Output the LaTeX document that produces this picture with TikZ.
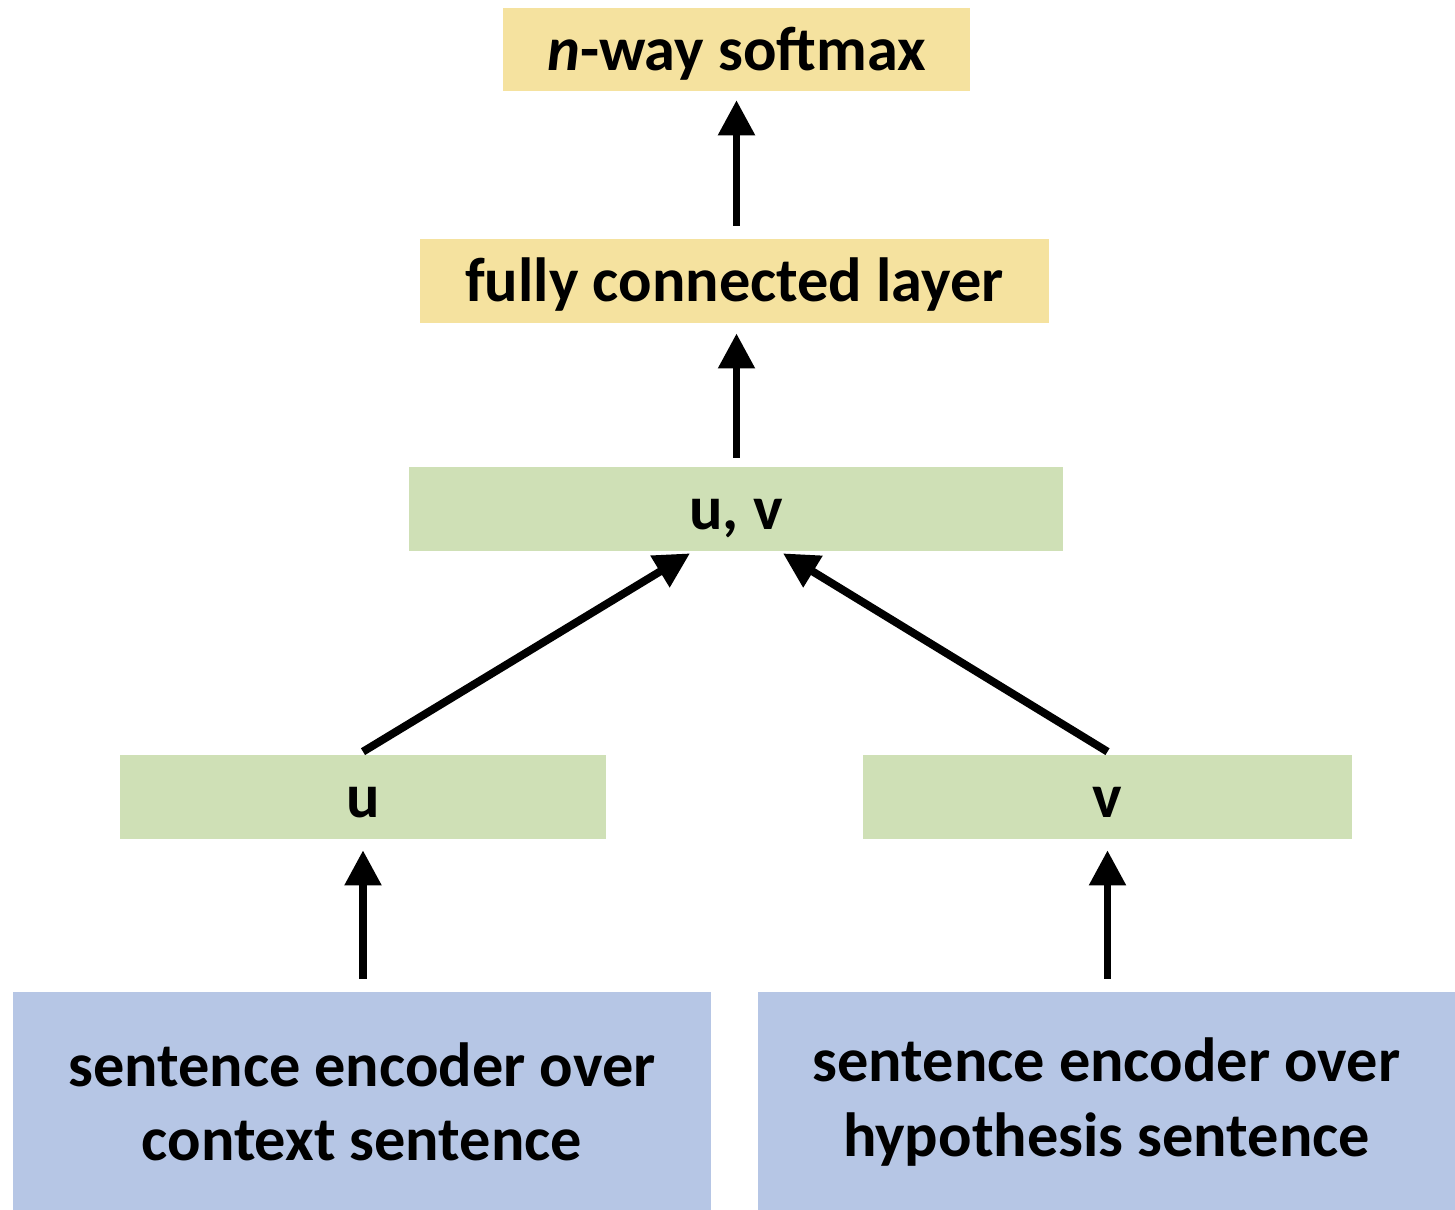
\documentclass[tikz,border=0pt]{standalone}
\usepackage{fontspec}
\setmainfont{Carlito}
\usetikzlibrary{arrows.meta,calc}
\definecolor{boxyellow}{HTML}{F5E29F}
\definecolor{boxgreen}{HTML}{CFE0B6}
\definecolor{boxblue}{HTML}{B6C6E5}
\tikzset{
  layer/.style={rectangle, inner sep=0pt, minimum height=1.68cm,
    font=\bfseries\fontsize{35.5}{42}\selectfont, text=black,
    text height=28.8pt, text depth=5pt},
  encoder/.style={rectangle, inner sep=0pt, fill=boxblue, minimum height=4.4cm,
    align=center, text=black, font=\bfseries\fontsize{35.5}{42.5}\selectfont},
  flow/.style={line width=4.5pt, -{Triangle[length=20pt,width=20pt]}},
}
\begin{document}
\begin{tikzpicture}[x=0.02cm, y=-0.02cm]
\useasboundingbox (0,0) rectangle (1455,1210);

% layers, top to bottom
\node[layer, fill=boxyellow, minimum width=9.34cm, minimum height=1.66cm] (soft) at (736.5,49.5) {\textit{n}-way softmax};
\node[layer, fill=boxyellow, minimum width=12.58cm] (fc) at (734.5,281) {fully connected layer};
\node[layer, fill=boxgreen, minimum width=13.08cm] (uv) at (736,509) {u, v};
\node[layer, fill=boxgreen, minimum width=9.72cm] (u) at (363,797) {u};
\node[layer, fill=boxgreen, minimum width=9.78cm] (v) at (1107.5,797) {v};
\node[encoder, minimum width=13.96cm] (encL) at (362,1102)
  {sentence encoder over\\context sentence};
\node[encoder, minimum width=13.94cm] (encR) at (1106.5,1102)
  {sentence encoder over\\hypothesis sentence};

% connectors
\draw[flow, shorten <=7.4pt, shorten >=5pt] (fc.north -| soft.south) -- (soft.south);
\draw[flow, shorten <=5pt, shorten >=5.7pt] (uv.north -| soft.south) -- (fc.south -| soft.south);
\draw[flow] ($(u.north)+(0,-3)$) -- ($(uv.south)+(-46,2)$);
\draw[flow] ($(v.north)+(0,-3)$) -- ($(uv.south)+(47,2)$);
\draw[flow, shorten <=7.4pt, shorten >=6.2pt] (encL.north -| u.south) -- (u.south);
\draw[flow, shorten <=7.4pt, shorten >=6.2pt] (encR.north -| v.south) -- (v.south);
\end{tikzpicture}
\end{document}
